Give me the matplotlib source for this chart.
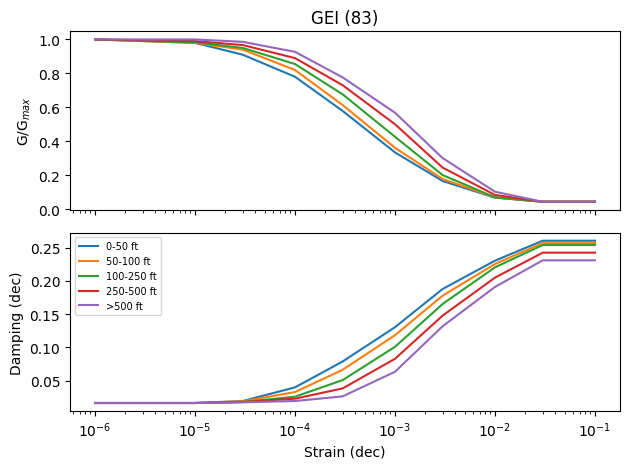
"""GEI (83) modulus reduction and damping curves."""

import matplotlib
matplotlib.use("Agg")
import matplotlib.pyplot as plt

strain = [1e-6, 1e-5, 3e-5, 1e-4, 3e-4, 1e-3, 3e-3, 1e-2, 3e-2, 1e-1]
labels = ["0-50 ft", "50-100 ft", "100-250 ft", "250-500 ft", ">500 ft"]

ggmax = [
    [1.0, 0.98, 0.91, 0.78, 0.578, 0.334, 0.165, 0.067, 0.043, 0.043],
    [1.0, 0.98, 0.94, 0.82, 0.613, 0.361, 0.177, 0.069, 0.043, 0.043],
    [1.0, 0.983, 0.95, 0.855, 0.676, 0.426, 0.20, 0.069, 0.043, 0.043],
    [1.0, 0.99, 0.967, 0.89, 0.73, 0.50, 0.244, 0.083, 0.043, 0.043],
    [1.0, 1.0, 0.986, 0.927, 0.776, 0.568, 0.30, 0.102, 0.043, 0.043],
]

damping = [
    [0.0165, 0.0165, 0.0195, 0.040, 0.079, 0.1305, 0.188, 0.2305, 0.2605, 0.2605],
    [0.0165, 0.0165, 0.019, 0.033, 0.0665, 0.1185, 0.178, 0.2255, 0.257, 0.257],
    [0.0165, 0.0165, 0.018, 0.026, 0.051, 0.101, 0.1655, 0.2205, 0.254, 0.254],
    [0.0165, 0.0165, 0.018, 0.023, 0.0385, 0.083, 0.148, 0.205, 0.2425, 0.2425],
    [0.0165, 0.0165, 0.0175, 0.0195, 0.0265, 0.0635, 0.132, 0.191, 0.231, 0.231],
]

fig, (ax1, ax2) = plt.subplots(2, 1, sharex=True, figsize=(6.4, 4.8), dpi=100)

for lab, g in zip(labels, ggmax):
    ax1.plot(strain, g, label=lab)
for lab, d in zip(labels, damping):
    ax2.plot(strain, d, label=lab)

ax1.set_xscale("log")
ax1.set_title("GEI (83)")
ax1.set_ylabel("G/G$_{max}$")
ax2.set_ylabel("Damping (dec)")
ax2.set_xlabel("Strain (dec)")
ax2.legend(fontsize=7)

plt.tight_layout()
plt.savefig("out.png", dpi=100, bbox_inches="tight")
